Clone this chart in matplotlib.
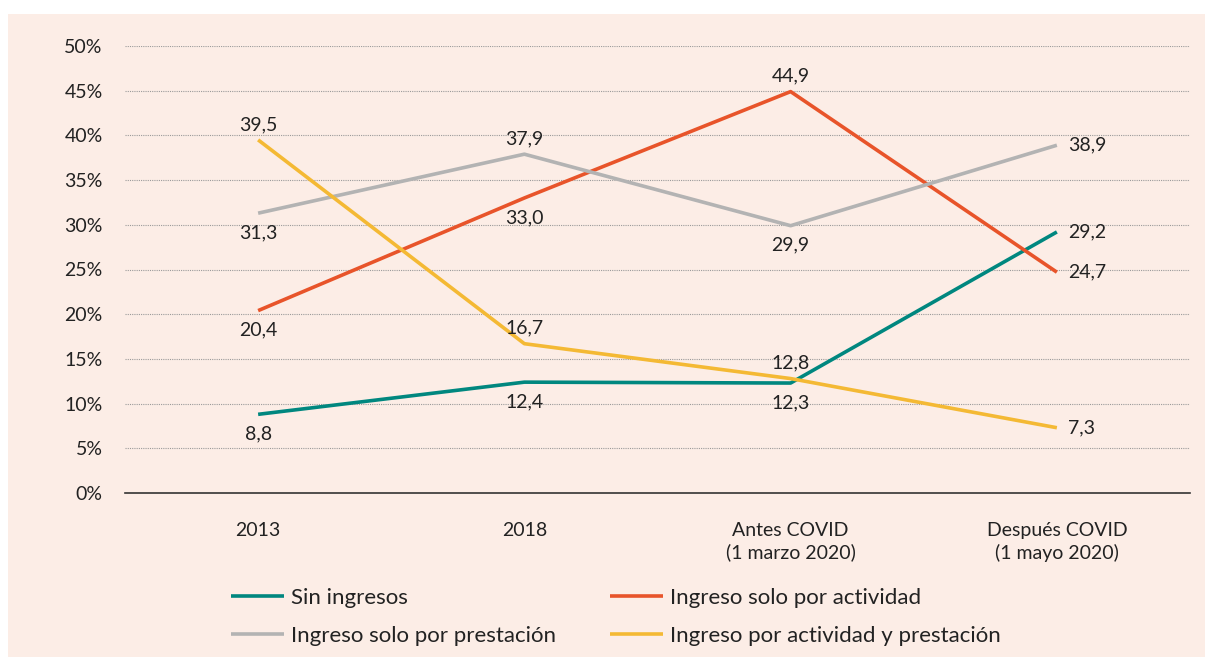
import matplotlib
matplotlib.use("Agg")
import matplotlib.pyplot as plt
from matplotlib.patches import Rectangle
from matplotlib.ticker import FuncFormatter

plt.rcParams['font.family'] = ['Lato', 'DejaVu Sans']

categories = ["2013", "2018", "Antes COVID\n(1 marzo 2020)", "Después COVID\n(1 mayo 2020)"]
series_names = ["Sin ingresos", "Ingreso solo por actividad",
                "Ingreso solo por prestación", "Ingreso por actividad y prestación"]
sin_ingresos = [8.8, 12.4, 12.3, 29.2]
solo_actividad = [20.4, 33.0, 44.9, 24.7]
solo_prestacion = [31.3, 37.9, 29.9, 38.9]
actividad_prestacion = [39.5, 16.7, 12.8, 7.3]
yticks = [0, 5, 10, 15, 20, 25, 30, 35, 40, 45, 50]

colors = ["#00877F", "#E8542A", "#B3B3B3", "#F4B934"]
# label placement per point: 'below', 'above', 'right'
placements = [
    ["below", "below", "below", "right"],
    ["below", "below", "above", "right"],
    ["below", "above", "below", "right"],
    ["above", "above", "above", "right"],
]
data = [sin_ingresos, solo_actividad, solo_prestacion, actividad_prestacion]

txt = "#222222"
bg = "#FCEDE6"
fig = plt.figure(figsize=(12.05, 6.57), dpi=100, facecolor="white")
fig.patches.append(Rectangle((8/1205, 0), 1 - 8/1205, 1 - 14/657, transform=fig.transFigure,
                             facecolor=bg, edgecolor="none", zorder=-10))

ax = fig.add_axes([125/1205, 1 - 493/657, (1190 - 125)/1205, (493 - 46)/657])
ax.patch.set_alpha(0)

x = list(range(len(categories)))
lines = []
for vals, c, name in zip(data, colors, series_names):
    ln, = ax.plot(x, vals, color=c, lw=2.6, solid_capstyle="butt", label=name, zorder=3)
    lines.append(ln)

fs = 14
for vals, pl in zip(data, placements):
    for xi, v, p in zip(x, vals, pl):
        s = f"{v:.1f}".replace(".", ",")
        if p == "below":
            ax.annotate(s, (xi, v), xytext=(0, -8), textcoords="offset points",
                        ha="center", va="top", fontsize=fs, color=txt)
        elif p == "above":
            ax.annotate(s, (xi, v), xytext=(0, 5), textcoords="offset points",
                        ha="center", va="bottom", fontsize=fs, color=txt)
        else:
            ax.annotate(s, (xi, v), xytext=(8, 0), textcoords="offset points",
                        ha="left", va="center", fontsize=fs, color=txt)

ax.set_xlim(-0.5, 3.5)
ax.set_ylim(0, 50)
ax.set_yticks(yticks)
ax.yaxis.set_major_formatter(FuncFormatter(lambda v, p: f"{int(v)}%"))
ax.set_xticks(x)
ax.set_xticklabels(categories, fontsize=fs, color=txt, linespacing=1.3)
ax.tick_params(axis="y", length=0, pad=16, labelsize=fs, labelcolor=txt)
ax.tick_params(axis="x", length=0, pad=21)
for t in yticks[1:]:
    ax.axhline(t, color="#9a9a9a", lw=0.8, ls=(0, (1, 1)), zorder=1)
for sp in ["top", "right", "left"]:
    ax.spines[sp].set_visible(False)
ax.spines["bottom"].set_color("#333333")
ax.spines["bottom"].set_linewidth(1.2)

order = [0, 2, 1, 3]
leg = fig.legend([lines[i] for i in order], [series_names[i] for i in order],
                 ncol=2, loc="upper left", bbox_to_anchor=(231/1205, 1 - 588/657),
                 frameon=False, fontsize=16, handlelength=2.4, handletextpad=0.32,
                 columnspacing=2.4, labelspacing=0.8, borderaxespad=0, borderpad=0)
for t in leg.get_texts():
    t.set_color(txt)

fig.savefig("out.png", dpi=100, facecolor="white")
